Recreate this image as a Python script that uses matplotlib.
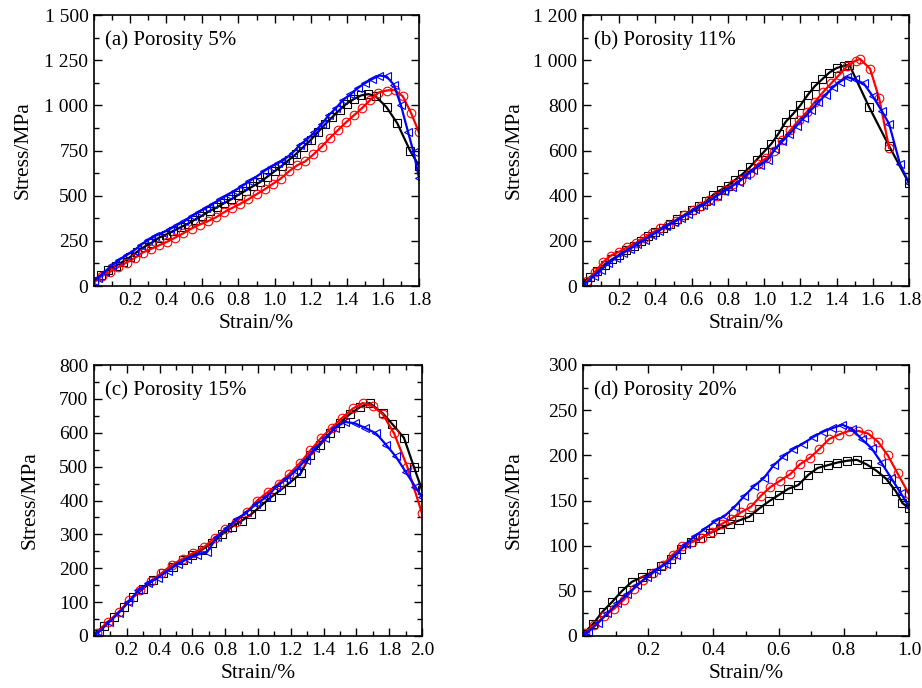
import matplotlib
matplotlib.use("Agg")
import matplotlib.pyplot as plt
from matplotlib.ticker import MultipleLocator, FixedLocator

plt.rcParams['font.family'] = ['Liberation Serif', 'DejaVu Serif']
plt.rcParams['mathtext.fontset'] = 'stix'

# ---------------- (a) Porosity 5% ----------------
a_strain_black = [0.00, 0.04, 0.08, 0.12, 0.16, 0.20, 0.24, 0.28, 0.32, 0.36, 0.40, 0.44,
                  0.48, 0.52, 0.56, 0.60, 0.64, 0.68, 0.72, 0.76, 0.80, 0.84, 0.88, 0.92,
                  0.96, 1.00, 1.04, 1.08, 1.12, 1.16, 1.20, 1.24, 1.28, 1.32, 1.36, 1.40,
                  1.44, 1.48, 1.52, 1.56, 1.62, 1.68, 1.75, 1.80]
a_stress_black = [25, 60, 90, 112, 135, 160, 190, 218, 240, 268, 285, 305,
                  325, 345, 368, 390, 415, 435, 458, 480, 505, 528, 552, 575,
                  605, 635, 665, 698, 732, 770, 808, 852, 895, 935, 975, 1010,
                  1035, 1055, 1062, 1050, 990, 900, 750, 665]

a_strain_red = [0.000, 0.045, 0.090, 0.135, 0.180, 0.225, 0.270, 0.315, 0.360, 0.405,
                0.450, 0.495, 0.540, 0.585, 0.630, 0.675, 0.720, 0.765, 0.810, 0.855,
                0.900, 0.945, 0.990, 1.035, 1.080, 1.125, 1.170, 1.215, 1.260, 1.305,
                1.350, 1.395, 1.440, 1.485, 1.530, 1.575, 1.620, 1.665, 1.710, 1.755, 1.800]
a_stress_red = [20, 55, 80, 105, 130, 155, 185, 205, 225, 245,
                268, 292, 318, 340, 358, 380, 408, 432, 455, 480,
                508, 535, 565, 595, 635, 668, 690, 728, 770, 818,
                862, 905, 945, 985, 1030, 1070, 1082, 1085, 1050, 960, 850]

a_strain_blue = [0.00, 0.02, 0.06, 0.10, 0.14, 0.18, 0.22, 0.26, 0.30, 0.34, 0.38, 0.42,
                 0.46, 0.50, 0.54, 0.58, 0.62, 0.66, 0.70, 0.74, 0.78, 0.82, 0.86, 0.90,
                 0.94, 0.98, 1.02, 1.06, 1.10, 1.14, 1.18, 1.22, 1.26, 1.30, 1.34, 1.38,
                 1.42, 1.46, 1.50, 1.54, 1.58, 1.62, 1.66, 1.70, 1.74, 1.77, 1.80]
a_stress_blue = [30, 45, 80, 115, 145, 170, 195, 228, 255, 278, 295, 315,
                 337, 358, 385, 410, 432, 456, 480, 505, 528, 553, 580, 605,
                 635, 660, 680, 705, 738, 780, 812, 850, 895, 945, 985, 1030,
                 1060, 1095, 1122, 1145, 1165, 1160, 1115, 1000, 850, 740, 600]

# ---------------- (b) Porosity 11% ----------------
b_strain_black = [0.00, 0.04, 0.08, 0.12, 0.16, 0.20, 0.24, 0.28, 0.32, 0.36, 0.40, 0.44,
                  0.48, 0.52, 0.56, 0.60, 0.64, 0.68, 0.72, 0.76, 0.80, 0.84, 0.88, 0.92,
                  0.96, 1.00, 1.04, 1.08, 1.12, 1.16, 1.20, 1.24, 1.28, 1.32, 1.36, 1.40,
                  1.44, 1.47, 1.58, 1.69, 1.80]
b_stress_black = [15, 40, 65, 95, 118, 138, 158, 178, 200, 220, 240, 258,
                  275, 295, 315, 335, 355, 375, 405, 425, 445, 470, 495, 525,
                  560, 595, 630, 675, 728, 762, 800, 845, 885, 915, 945, 965,
                  975, 980, 792, 620, 455]

b_strain_red = [0.020, 0.065, 0.110, 0.155, 0.200, 0.245, 0.290, 0.335, 0.380, 0.425,
                0.470, 0.515, 0.560, 0.605, 0.650, 0.695, 0.740, 0.785, 0.830, 0.875,
                0.920, 0.965, 1.010, 1.055, 1.100, 1.145, 1.190, 1.235, 1.280, 1.325,
                1.370, 1.415, 1.460, 1.505, 1.530, 1.585, 1.635, 1.690]
b_stress_red = [20, 62, 105, 135, 152, 172, 190, 212, 235, 255,
                270, 290, 315, 335, 355, 380, 400, 425, 450, 470,
                500, 540, 565, 600, 645, 690, 733, 770, 815, 858,
                897, 935, 975, 998, 1005, 962, 832, 612]

b_strain_blue = [0.00, 0.02, 0.06, 0.10, 0.14, 0.18, 0.22, 0.26, 0.30, 0.34, 0.38, 0.42,
                 0.46, 0.50, 0.54, 0.58, 0.62, 0.66, 0.70, 0.74, 0.78, 0.82, 0.86, 0.90,
                 0.94, 0.98, 1.02, 1.06, 1.10, 1.14, 1.18, 1.22, 1.26, 1.30, 1.34, 1.38,
                 1.42, 1.46, 1.50, 1.55, 1.60, 1.65, 1.69, 1.75, 1.80]
b_stress_blue = [5, 15, 45, 72, 100, 125, 145, 165, 185, 205, 225, 245,
                 265, 282, 300, 320, 340, 358, 378, 400, 420, 440, 462, 490,
                 515, 536, 560, 605, 640, 672, 710, 745, 780, 815, 847, 880,
                 905, 925, 915, 897, 840, 775, 718, 541, 455]

# ---------------- (c) Porosity 15% ----------------
c_strain_black = [0.00, 0.06, 0.12, 0.18, 0.24, 0.30, 0.36, 0.42, 0.48, 0.54, 0.60, 0.66,
                  0.72, 0.78, 0.84, 0.90, 0.96, 1.02, 1.08, 1.14, 1.20, 1.26, 1.32, 1.38,
                  1.44, 1.50, 1.56, 1.62, 1.68, 1.76, 1.82, 1.89, 1.95, 2.00]
c_stress_black = [5, 30, 55, 85, 115, 140, 165, 185, 205, 225, 240, 255,
                  275, 300, 322, 340, 360, 385, 410, 432, 455, 480, 535, 565,
                  598, 630, 655, 675, 688, 658, 625, 585, 500, 431]

c_strain_red = [0.020, 0.085, 0.150, 0.215, 0.280, 0.345, 0.410, 0.475, 0.540, 0.605,
                0.670, 0.735, 0.800, 0.865, 0.930, 0.995, 1.060, 1.125, 1.190, 1.255,
                1.320, 1.385, 1.450, 1.515, 1.580, 1.640, 1.700, 1.760, 1.830, 1.910, 2.000]
c_stress_red = [10, 42, 70, 105, 135, 162, 185, 210, 228, 245,
                262, 290, 315, 338, 365, 400, 425, 450, 478, 510,
                548, 585, 615, 645, 672, 688, 678, 655, 598, 500, 362]

c_strain_blue = [0.00, 0.03, 0.09, 0.15, 0.21, 0.27, 0.33, 0.39, 0.45, 0.51, 0.57, 0.63,
                 0.69, 0.75, 0.81, 0.87, 0.93, 0.99, 1.05, 1.11, 1.17, 1.23, 1.29, 1.35,
                 1.41, 1.47, 1.53, 1.59, 1.65, 1.72, 1.78, 1.84, 1.90, 1.96, 2.00]
c_stress_blue = [0, 12, 40, 68, 100, 135, 155, 172, 192, 212, 228, 240,
                 248, 292, 318, 345, 365, 390, 410, 440, 462, 488, 520, 555,
                 585, 615, 632, 628, 615, 598, 565, 530, 485, 440, 410]

# ---------------- (d) Porosity 20% ----------------
d_strain_black = [0.00, 0.03, 0.06, 0.09, 0.12, 0.15, 0.18, 0.21, 0.24, 0.27, 0.30, 0.33,
                  0.36, 0.39, 0.42, 0.45, 0.48, 0.51, 0.54, 0.57, 0.60, 0.63, 0.66, 0.69,
                  0.72, 0.75, 0.78, 0.81, 0.84, 0.87, 0.90, 0.93, 0.96, 0.98, 1.00]
d_stress_black = [2, 13, 27, 38, 50, 60, 65, 70, 77, 85, 96, 104,
                  108, 114, 119, 124, 128, 132, 141, 149, 156, 163, 167, 178,
                  186, 189, 192, 194, 195, 190, 183, 174, 160, 147, 142]

d_strain_red = [0.005, 0.035, 0.065, 0.095, 0.125, 0.155, 0.185, 0.215, 0.245, 0.275,
                0.305, 0.335, 0.365, 0.395, 0.425, 0.455, 0.485, 0.515, 0.545, 0.575,
                0.605, 0.635, 0.665, 0.695, 0.725, 0.755, 0.785, 0.815, 0.845, 0.875,
                0.905, 0.935, 0.965, 1.000]
d_stress_red = [3, 12, 22, 30, 40, 52, 62, 70, 79, 90,
                100, 104, 109, 115, 124, 130, 137, 143, 155, 165,
                172, 179, 190, 197, 207, 218, 223, 227, 227, 224,
                215, 200, 180, 157]

d_strain_blue = [0.000, 0.015, 0.045, 0.075, 0.105, 0.135, 0.165, 0.195, 0.225, 0.255,
                 0.285, 0.315, 0.345, 0.375, 0.405, 0.435, 0.465, 0.495, 0.525, 0.555,
                 0.585, 0.615, 0.645, 0.675, 0.705, 0.735, 0.765, 0.795, 0.825, 0.855,
                 0.885, 0.915, 0.945, 0.975, 1.000]
d_stress_blue = [0, 4, 14, 25, 36, 46, 56, 65, 73, 80,
                 90, 102, 111, 119, 127, 133, 143, 155, 166, 175,
                 189, 199, 207, 213, 220, 226, 230, 234, 229, 218,
                 208, 192, 175, 158, 143]

# ---------------- axis setup ----------------
panel_titles = ["(a) Porosity 5%", "(b) Porosity 11%", "(c) Porosity 15%", "(d) Porosity 20%"]

a_xticks = [0.2, 0.4, 0.6, 0.8, 1.0, 1.2, 1.4, 1.6, 1.8]
a_yticks = [0, 250, 500, 750, 1000, 1250, 1500]
a_yticklabels = ["0", "250", "500", "750", "1 000", "1 250", "1 500"]

b_xticks = [0.2, 0.4, 0.6, 0.8, 1.0, 1.2, 1.4, 1.6, 1.8]
b_yticks = [0, 200, 400, 600, 800, 1000, 1200]
b_yticklabels = ["0", "200", "400", "600", "800", "1 000", "1 200"]

c_xticks = [0.2, 0.4, 0.6, 0.8, 1.0, 1.2, 1.4, 1.6, 1.8, 2.0]
c_yticks = [0, 100, 200, 300, 400, 500, 600, 700, 800]
c_yticklabels = ["0", "100", "200", "300", "400", "500", "600", "700", "800"]

d_xticks = [0.2, 0.4, 0.6, 0.8, 1.0]
d_yticks = [0, 50, 100, 150, 200, 250, 300]
d_yticklabels = ["0", "50", "100", "150", "200", "250", "300"]

W, H = 922, 688
fig = plt.figure(figsize=(W / 100, H / 100), dpi=100)

def px_axes(left, top, right, bottom):
    return fig.add_axes([left / W, 1 - bottom / H, (right - left) / W, (bottom - top) / H])

ax_a = px_axes(94, 15, 419, 286)
ax_b = px_axes(583, 15, 909, 286)
ax_c = px_axes(94, 365, 422, 636)
ax_d = px_axes(583, 365, 909, 636)

line_kw = dict(lw=1.6, ms=6.2, mew=0.8, mfc='none')

def draw(ax, series, xlim, ylim, xticks, yticks, yticklabels, ymin_step, title, ylab_x):
    for sx, sy, color, marker in series:
        ax.plot(sx, sy, color=color, marker=marker, mec=color, **line_kw)
    ax.set_xlim(*xlim)
    ax.set_ylim(*ylim)
    ax.xaxis.set_major_locator(FixedLocator(xticks))
    ax.xaxis.set_minor_locator(MultipleLocator(0.1))
    ax.set_xticklabels([f"{t:.1f}" for t in xticks])
    ax.yaxis.set_major_locator(FixedLocator(yticks))
    ax.set_yticklabels(yticklabels)
    ax.yaxis.set_minor_locator(MultipleLocator(ymin_step))
    ax.tick_params(which='both', direction='in', top=True, right=True, labelsize=14,
                   width=1.0, pad=4)
    ax.tick_params(which='major', length=6)
    ax.tick_params(which='minor', length=3.5)
    for sp in ax.spines.values():
        sp.set_linewidth(1.2)
    ax.set_xlabel("Strain/%", fontsize=15.5, labelpad=4)
    ax.set_ylabel("Stress/MPa", fontsize=15.5)
    ax.yaxis.set_label_coords(ylab_x, 0.5)
    ax.text(0.035, 0.945, title, transform=ax.transAxes, fontsize=15, va='top', ha='left')

draw(ax_a, [(a_strain_black, a_stress_black, 'black', 's'),
            (a_strain_red, a_stress_red, 'red', 'o'),
            (a_strain_blue, a_stress_blue, 'blue', '<')],
     (0, 1.8), (0, 1500), a_xticks, a_yticks, a_yticklabels, 125, panel_titles[0], -0.19)
draw(ax_b, [(b_strain_black, b_stress_black, 'black', 's'),
            (b_strain_red, b_stress_red, 'red', 'o'),
            (b_strain_blue, b_stress_blue, 'blue', '<')],
     (0, 1.8), (0, 1200), b_xticks, b_yticks, b_yticklabels, 100, panel_titles[1], -0.183)
draw(ax_c, [(c_strain_black, c_stress_black, 'black', 's'),
            (c_strain_red, c_stress_red, 'red', 'o'),
            (c_strain_blue, c_stress_blue, 'blue', '<')],
     (0, 2.0), (0, 800), c_xticks, c_yticks, c_yticklabels, 50, panel_titles[2], -0.165)
draw(ax_d, [(d_strain_black, d_stress_black, 'black', 's'),
            (d_strain_red, d_stress_red, 'red', 'o'),
            (d_strain_blue, d_stress_blue, 'blue', '<')],
     (0, 1.0), (0, 300), d_xticks, d_yticks, d_yticklabels, 25, panel_titles[3], -0.183)

fig.savefig("out.png", dpi=100)
